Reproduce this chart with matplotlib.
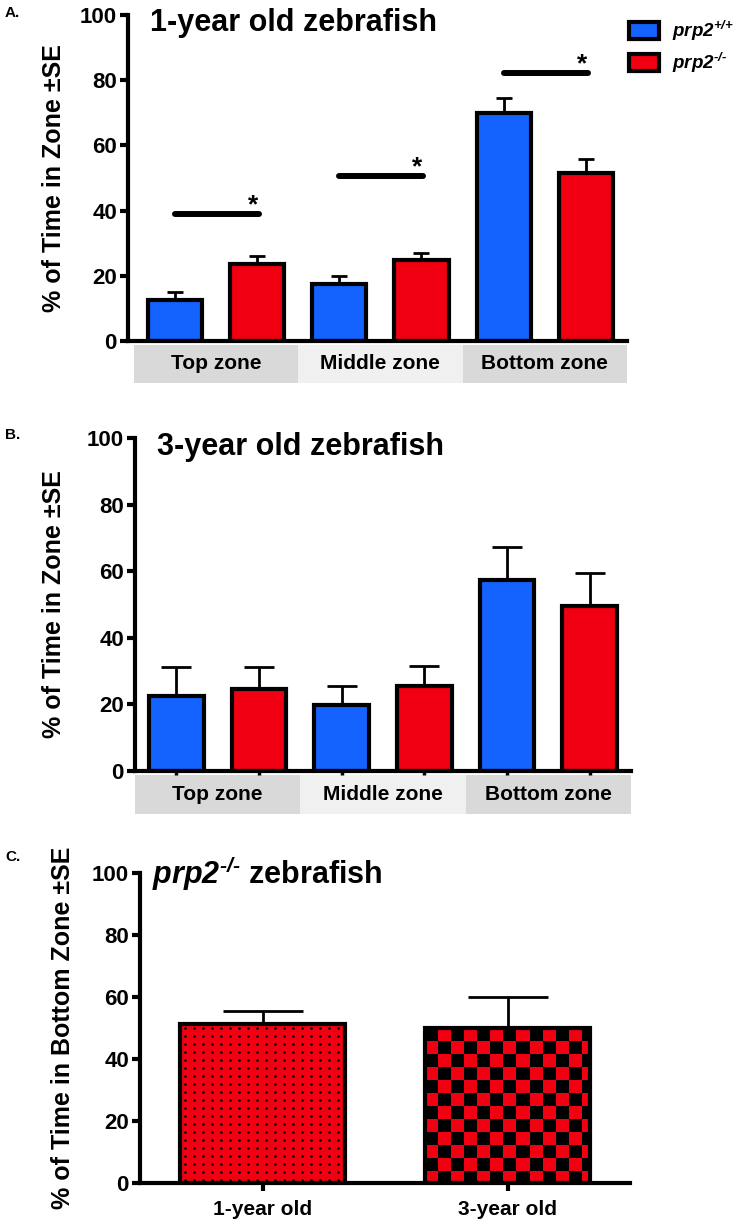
import numpy as np
import matplotlib
matplotlib.use("Agg")
import matplotlib.pyplot as plt
import matplotlib.transforms as mtransforms
from matplotlib.colors import ListedColormap
from matplotlib.patches import Patch, Rectangle

plt.rcParams['font.family'] = ['Liberation Sans', 'DejaVu Sans']
plt.rcParams['font.weight'] = 'bold'
plt.rcParams['axes.labelweight'] = 'bold'
plt.rcParams['mathtext.fontset'] = 'custom'
plt.rcParams['mathtext.it'] = 'Liberation Sans:bold:italic'
plt.rcParams['mathtext.rm'] = 'Liberation Sans:bold:italic'
plt.rcParams['mathtext.bf'] = 'Liberation Sans:bold'

BLUE = '#1463ff'
RED = '#f00010'

zones = ['Top zone', 'Middle zone', 'Bottom zone']
genotypes = [r'$\mathit{prp2}^{\text{+/+}}$', r'$\mathit{prp2}^{\text{-/-}}$']

# A: 1-year old fish, mean % time per zone and SE
a_wt = [12.5, 17.6, 69.8]
a_wt_se = [2.5, 2.4, 4.6]
a_ko = [23.7, 25.0, 51.4]
a_ko_se = [2.5, 2.0, 4.3]
a_sig_y = [39.0, 50.7, 82.3]   # height of the significance bars

# B: 3-year old fish
b_wt = [22.5, 19.8, 57.4]
b_wt_se = [8.8, 5.7, 10.0]
b_ko = [24.7, 25.6, 49.5]
b_ko_se = [6.4, 6.0, 10.1]

# C: prp2-/- time in bottom zone by age
ages = ['1-year old', '3-year old']
c_bottom = [51.3, 49.9]
c_se = [4.3, 10.0]

W_PX, H_PX = 739, 1227
fig = plt.figure(figsize=(W_PX / 100, H_PX / 100), dpi=100)


def axes_px(left, right, bottom, top):
    # pixel box (from top-left) -> figure fraction
    return fig.add_axes([left / W_PX, 1 - bottom / H_PX,
                         (right - left) / W_PX, (bottom - top) / H_PX])


def style_axis(ax):
    ax.spines[['top', 'right']].set_visible(False)
    ax.spines[['left', 'bottom']].set_linewidth(3)
    ax.set_ylim(0, 100)
    ax.set_yticks([0, 20, 40, 60, 80, 100])
    ax.tick_params(axis='y', length=6, width=3, labelsize=16, pad=2)


def zone_panel(ax, wt, wt_se, ko, ko_se, capsize, title, xlim):
    x_wt = np.arange(len(zones)) * 2
    x_ko = x_wt + 1
    for x, m, se, col in [(x_wt, wt, wt_se, BLUE), (x_ko, ko, ko_se, RED)]:
        ax.errorbar(x, m, yerr=[np.zeros(len(m)), se], fmt='none', ecolor='black',
                    elinewidth=2, capsize=capsize, capthick=2, zorder=1)
        ax.bar(x, m, width=0.66, color=col, edgecolor='black', linewidth=3, zorder=2)
    style_axis(ax)
    ax.set_xlim(*xlim)
    ax.set_ylabel('% of Time in Zone ±SE', fontsize=18)
    trans = mtransforms.blended_transform_factory(ax.transData, ax.transAxes)
    shades = ['#d9d9d9', '#f0f0f0', '#d9d9d9']
    for i, z in enumerate(zones):
        ax.add_patch(Rectangle((2 * i - 0.5, -0.128), 2, 0.117, transform=trans,
                               facecolor=shades[i], edgecolor='none', clip_on=False))
        ax.text(2 * i + 0.5, -0.07, z, transform=trans, ha='center', va='center',
                fontsize=15)
    ax.text(0.045, 0.95, title, transform=ax.transAxes, fontsize=22, va='baseline')
    return x_wt, x_ko


# ---- A ----
ax_a = axes_px(128, 627, 341, 15)
x_wt, x_ko = zone_panel(ax_a, a_wt, a_wt_se, a_ko, a_ko_se, 5.5,
                        '1-year old zebrafish', (-0.57, 5.5))
ax_a.set_xticks([])
ax_a.yaxis.set_label_coords(-0.125, 0.5)
for xw, xk, y in zip(x_wt, x_ko, a_sig_y):
    ax_a.plot([xw, xk + 0.02], [y, y], color='black', lw=4.3,
              solid_capstyle='round', zorder=3)
    ax_a.text(xk - 0.05, y + 0.5, '*', ha='center', va='baseline', fontsize=19)
handles = [Patch(facecolor=BLUE, edgecolor='black', linewidth=3),
           Patch(facecolor=RED, edgecolor='black', linewidth=3)]
ax_a.legend(handles, genotypes, loc='upper left',
            bbox_to_anchor=(629 / W_PX, 1 - 19 / H_PX), bbox_transform=fig.transFigure,
            frameon=False, fontsize=13.5, handlelength=1.6, handleheight=1.0,
            handletextpad=0.7, labelspacing=0.4, borderpad=0, borderaxespad=0)

# ---- B ----
ax_b = axes_px(135, 631, 771, 438)
x_wt, x_ko = zone_panel(ax_b, b_wt, b_wt_se, b_ko, b_ko_se, 11,
                        '3-year old zebrafish', (-0.5, 5.5))
ax_b.set_xticks(np.sort(np.concatenate([x_wt, x_ko])))
ax_b.set_xticklabels([])
ax_b.tick_params(axis='x', length=3, width=2.5)
ax_b.yaxis.set_label_coords(-0.139, 0.5)

# ---- C ----
ax_c = axes_px(140, 630, 1183, 873)
xc = np.arange(len(ages))
ax_c.errorbar(xc, c_bottom, yerr=[np.zeros(len(xc)), c_se], fmt='none', ecolor='black',
              elinewidth=2, capsize=29, capthick=2, zorder=1)
bars = ax_c.bar(xc, c_bottom, width=0.67, color=RED, edgecolor='none', zorder=2)
style_axis(ax_c)
ax_c.set_xlim(-0.5, 1.5)
ax_c.set_xticks(xc, ages)
ax_c.tick_params(axis='x', length=6, width=3, labelsize=15, pad=6)
ax_c.set_ylabel('% of Time in Bottom Zone ±SE', fontsize=18)
ax_c.yaxis.set_label_coords(-0.133, 0.5)
ax_c.text(0.025, 0.965, r'$\mathit{prp2}^{\text{-/-}}$ zebrafish', transform=ax_c.transAxes,
          fontsize=22, va='baseline')

# pixel scale of panel C, for the fill patterns
pos = ax_c.get_position()
ppx = pos.width * W_PX / 2.0
ppy = pos.height * H_PX / 100.0
ax_c.autoscale(False)

# dotted fill (1-year old)
b0 = bars[0]
sx, sy = 9 / ppx, 8 / ppy
gx = np.arange(b0.get_x() + sx / 2, b0.get_x() + b0.get_width(), sx)
gy = np.arange(b0.get_height() - sy / 2, 0, -sy)
GX, GY = np.meshgrid(gx, gy)
dots = ax_c.scatter(GX.ravel(), GY.ravel(), s=3.5, marker='o', color='black',
                    linewidths=0, zorder=2.5)
dots.set_clip_path(b0)

# checkerboard fill (3-year old)
b1 = bars[1]
dx, dy = 13 / ppx, 13 / ppy
nc = int(np.ceil(b1.get_width() / dx))
nr = int(np.ceil(b1.get_height() / dy))
board = np.add.outer(np.arange(nr), np.arange(nc)) % 2
im = ax_c.imshow(board, cmap=ListedColormap(['black', RED]), interpolation='nearest',
                 aspect='auto', origin='upper', zorder=2.5,
                 extent=(b1.get_x(), b1.get_x() + nc * dx,
                         b1.get_height() - nr * dy, b1.get_height()))
im.set_clip_path(b1)
ax_c.bar(xc, c_bottom, width=0.67, fill=False, edgecolor='black', linewidth=3, zorder=3)
ax_c.set_xlim(-0.5, 1.5)
ax_c.set_ylim(0, 100)

for lab, ypx in [('A.', 13), ('B.', 435), ('C.', 857)]:
    fig.text(5 / W_PX, 1 - ypx / H_PX, lab, fontsize=11, va='center')

fig.savefig('out.png', dpi=100)
